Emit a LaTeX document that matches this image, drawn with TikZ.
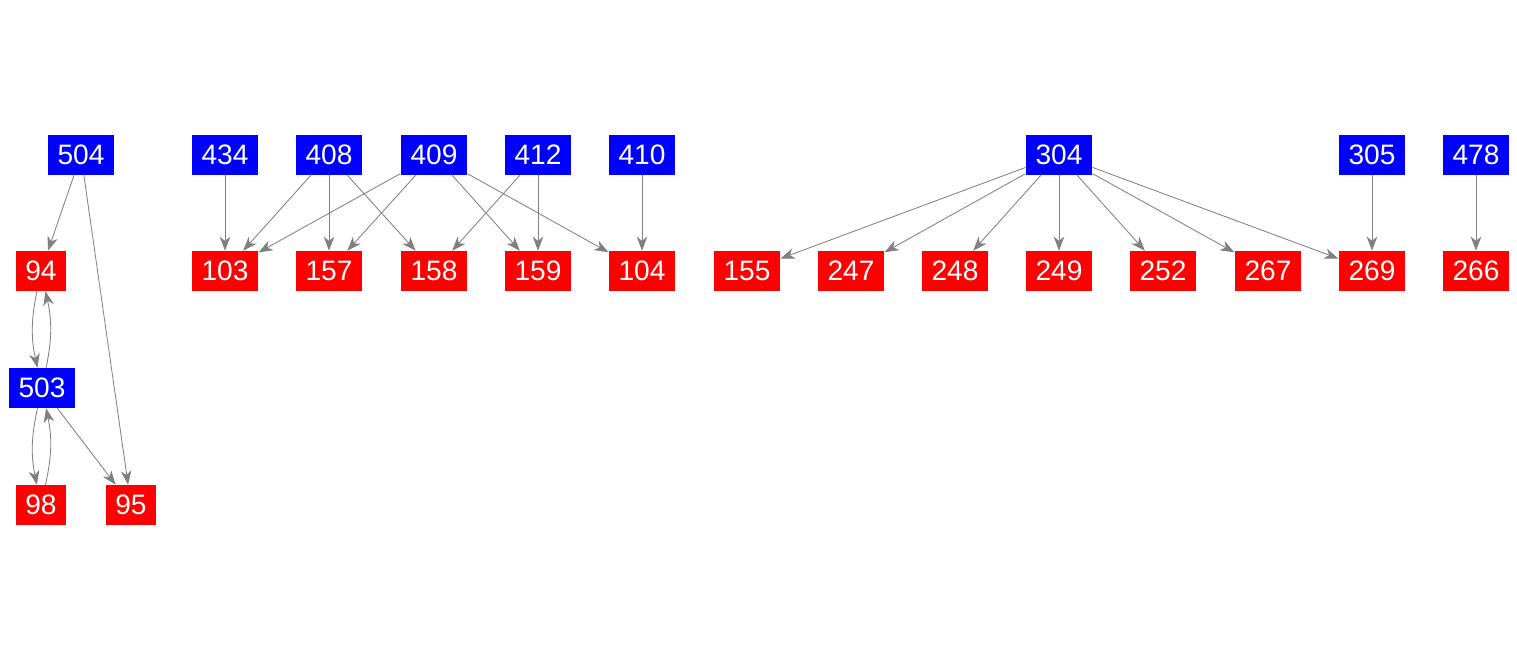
\documentclass[tikz,border=0pt]{standalone}
\usepackage{fontspec}
\setmainfont{Liberation Sans}
\usetikzlibrary{arrows.meta}

\begin{document}
\begin{tikzpicture}[x=0.025cm, y=-0.025cm, src/.style={fill=blue, text=white, inner xsep=7pt, minimum height=1cm, font=\fontsize{20}{20}\selectfont}, dst/.style={src, fill=red}, link/.style={-{Stealth[length=10pt, width=7.5pt, inset=3pt]}, gray, line width=0.6pt}]
\useasboundingbox (0,0) rectangle (1517,656);

% top row
\node[src] (n504) at (81,155) {504}; \node[src] (n434) at (225,155) {434}; \node[src] (n408) at (329,155) {408};
\node[src] (n409) at (434,155) {409}; \node[src] (n412) at (538,155) {412}; \node[src] (n410) at (642,155) {410};
\node[src] (n304) at (1059,155) {304}; \node[src] (n305) at (1372,155) {305}; \node[src] (n478) at (1476,155) {478};

% second row
\node[dst] (n94) at (41,271) {94}; \node[dst] (n103) at (225,271) {103}; \node[dst] (n157) at (329,271) {157};
\node[dst] (n158) at (434,271) {158}; \node[dst] (n159) at (538,271) {159}; \node[dst] (n104) at (642,271) {104};
\node[dst] (n155) at (747,271) {155}; \node[dst] (n247) at (851,271) {247}; \node[dst] (n248) at (955,271) {248};
\node[dst] (n249) at (1059,271) {249}; \node[dst] (n252) at (1163,271) {252}; \node[dst] (n267) at (1268,271) {267};
\node[dst] (n269) at (1372,271) {269}; \node[dst] (n266) at (1476,271) {266};

% left column
\node[src] (n503) at (42,388) {503};
\node[dst] (n98) at (41,505) {98}; \node[dst] (n95) at (131,505) {95};

\draw[link] (n504)--(n94); \draw[link] (n504)--(n95);
\draw[link] (n94) to[bend right=12] (n503); \draw[link] (n503) to[bend right=12] (n94);
\draw[link] (n503) to[bend right=12] (n98); \draw[link] (n98) to[bend right=12] (n503);
\draw[link] (n503)--(n95);

\draw[link] (n434)--(n103);
\foreach \t in {103,157,158} \draw[link] (n408)--(n\t);
\foreach \t in {103,157,159,104} \draw[link] (n409)--(n\t);
\foreach \t in {158,159} \draw[link] (n412)--(n\t);
\draw[link] (n410)--(n104);
\foreach \t in {155,247,248,249,252,267,269} \draw[link] (n304)--(n\t);
\draw[link] (n305)--(n269); \draw[link] (n478)--(n266);
\end{tikzpicture}
\end{document}
